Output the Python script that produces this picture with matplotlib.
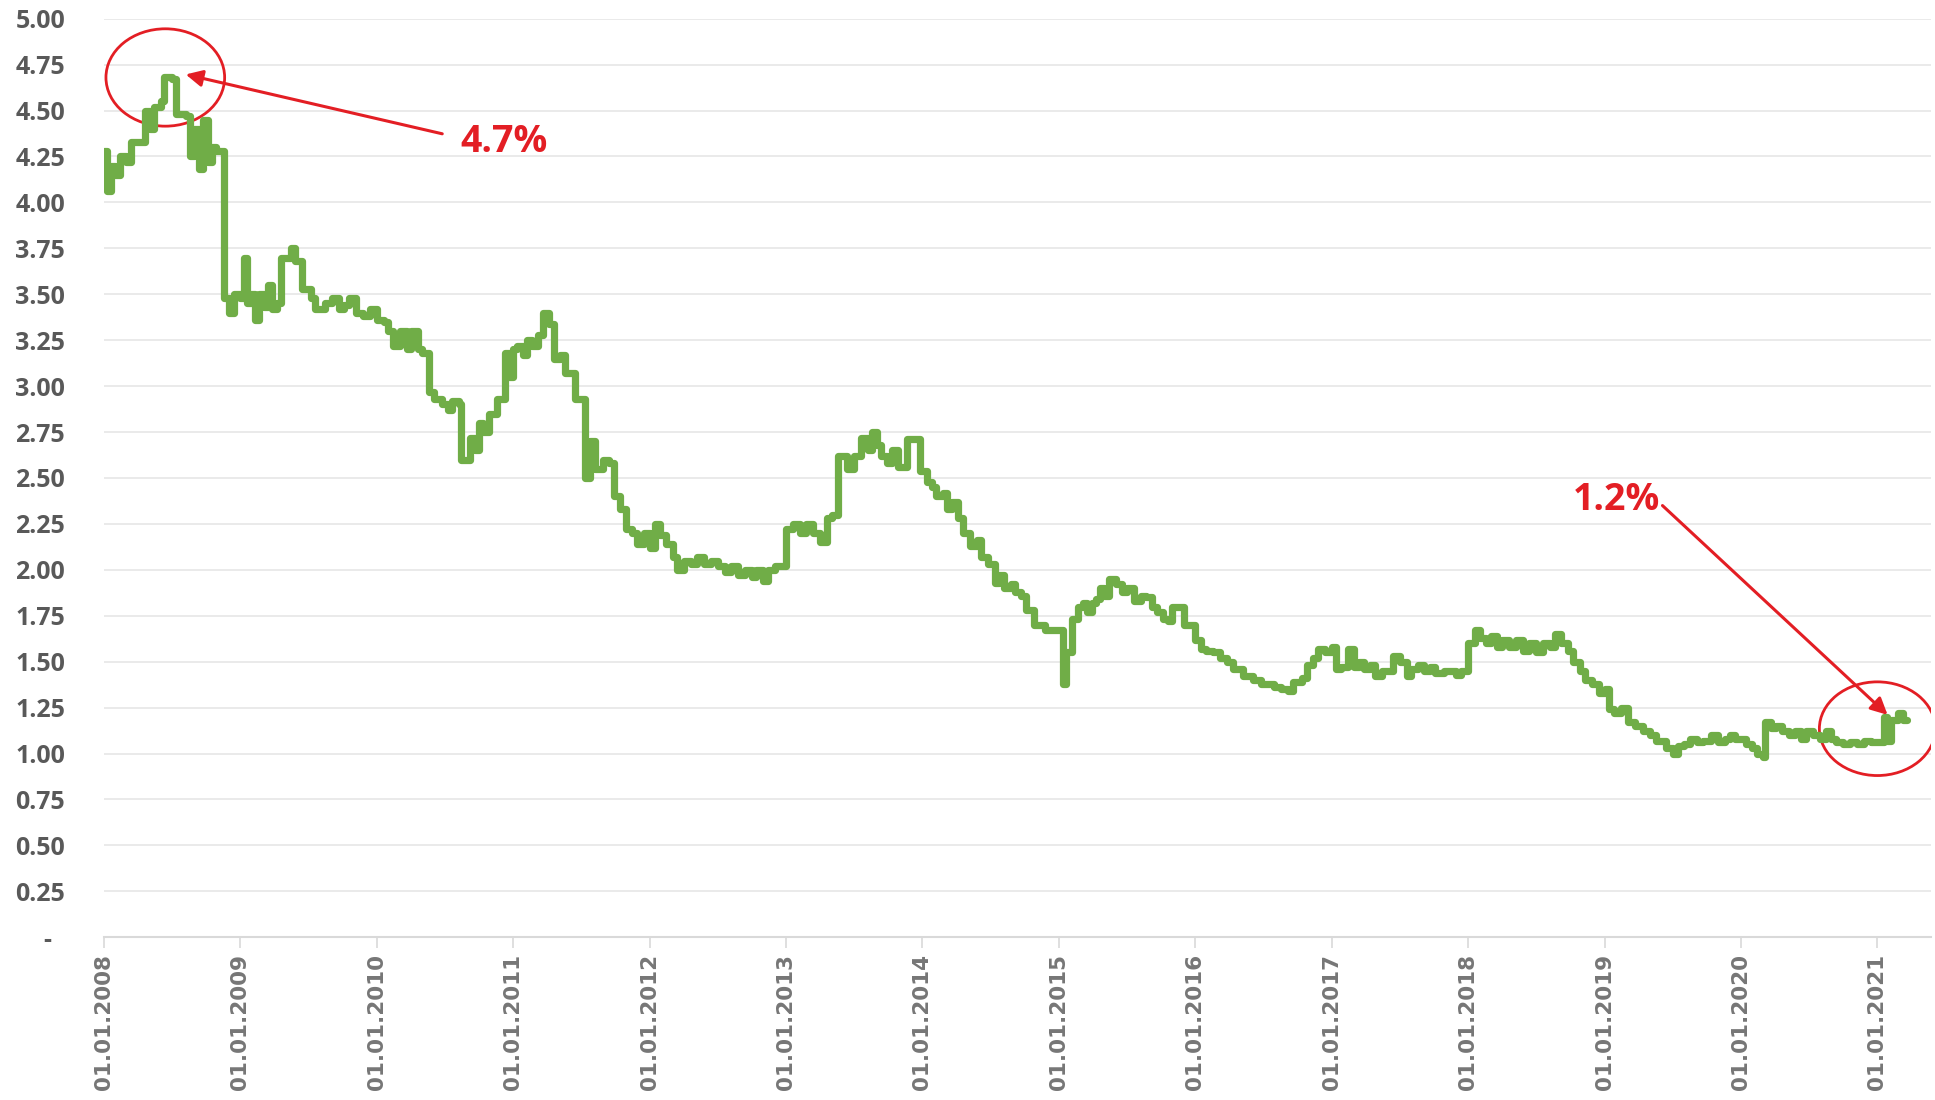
import matplotlib
matplotlib.use("Agg")
import matplotlib.pyplot as plt
from matplotlib.patches import Ellipse

# step points: fractional year -> rate (%)
years = [
    2008.00, 2008.02, 2008.05, 2008.08, 2008.12, 2008.16, 2008.20, 2008.25, 2008.30, 2008.34,
    2008.37, 2008.42, 2008.44, 2008.50, 2008.53, 2008.60, 2008.63, 2008.66, 2008.70, 2008.73,
    2008.76, 2008.79, 2008.82, 2008.88, 2008.92, 2008.95, 2009.00, 2009.03, 2009.05, 2009.08,
    2009.11, 2009.14, 2009.17, 2009.20, 2009.23, 2009.27, 2009.30, 2009.37, 2009.40, 2009.45,
    2009.52, 2009.55, 2009.62, 2009.67, 2009.72, 2009.76, 2009.80, 2009.85, 2009.90, 2009.95,
    2010.00, 2010.05, 2010.08, 2010.12, 2010.17, 2010.22, 2010.25, 2010.30, 2010.33, 2010.38,
    2010.42, 2010.48, 2010.52, 2010.55, 2010.60, 2010.62, 2010.68, 2010.72, 2010.75, 2010.78,
    2010.82, 2010.88, 2010.94, 2010.97, 2011.00, 2011.03, 2011.07, 2011.10, 2011.14, 2011.18,
    2011.22, 2011.26, 2011.30, 2011.34, 2011.38, 2011.42, 2011.45, 2011.50, 2011.53, 2011.56,
    2011.60, 2011.63, 2011.66, 2011.70, 2011.74, 2011.78, 2011.83, 2011.87, 2011.91, 2011.96,
    2012.00, 2012.04, 2012.08, 2012.12, 2012.17, 2012.20, 2012.25, 2012.30, 2012.35, 2012.40,
    2012.45, 2012.50, 2012.55, 2012.60, 2012.65, 2012.70, 2012.75, 2012.78, 2012.83, 2012.87,
    2012.92, 2013.00, 2013.05, 2013.10, 2013.15, 2013.20, 2013.25, 2013.30, 2013.34, 2013.38,
    2013.42, 2013.45, 2013.50, 2013.55, 2013.60, 2013.63, 2013.67, 2013.70, 2013.74, 2013.78,
    2013.82, 2013.86, 2013.89, 2013.94, 2013.98, 2014.03, 2014.07, 2014.10, 2014.15, 2014.18,
    2014.22, 2014.26, 2014.30, 2014.35, 2014.40, 2014.43, 2014.48, 2014.53, 2014.56, 2014.60,
    2014.65, 2014.68, 2014.72, 2014.76, 2014.82, 2014.90, 2015.03, 2015.05, 2015.10, 2015.14,
    2015.18, 2015.21, 2015.24, 2015.27, 2015.30, 2015.33, 2015.37, 2015.42, 2015.46, 2015.50,
    2015.55, 2015.60, 2015.64, 2015.68, 2015.72, 2015.76, 2015.80, 2015.83, 2015.88, 2015.92,
    2016.00, 2016.04, 2016.08, 2016.13, 2016.18, 2016.23, 2016.28, 2016.35, 2016.42, 2016.48,
    2016.53, 2016.58, 2016.63, 2016.68, 2016.72, 2016.78, 2016.82, 2016.86, 2016.90, 2016.95,
    2017.00, 2017.03, 2017.07, 2017.12, 2017.16, 2017.20, 2017.24, 2017.28, 2017.32, 2017.37,
    2017.41, 2017.45, 2017.50, 2017.55, 2017.58, 2017.63, 2017.68, 2017.72, 2017.76, 2017.82,
    2017.87, 2017.91, 2017.95, 2018.00, 2018.03, 2018.05, 2018.09, 2018.13, 2018.17, 2018.21,
    2018.25, 2018.30, 2018.35, 2018.40, 2018.45, 2018.50, 2018.55, 2018.60, 2018.64, 2018.68,
    2018.73, 2018.77, 2018.82, 2018.86, 2018.91, 2018.96, 2019.00, 2019.03, 2019.07, 2019.12,
    2019.17, 2019.22, 2019.28, 2019.33, 2019.38, 2019.45, 2019.50, 2019.54, 2019.58, 2019.63,
    2019.68, 2019.72, 2019.78, 2019.83, 2019.88, 2019.92, 2019.96, 2020.00, 2020.04, 2020.08,
    2020.12, 2020.16, 2020.18, 2020.22, 2020.26, 2020.30, 2020.35, 2020.40, 2020.44, 2020.48,
    2020.53, 2020.58, 2020.62, 2020.66, 2020.70, 2020.75, 2020.80, 2020.85, 2020.90, 2020.95,
    2021.00, 2021.05, 2021.07, 2021.10, 2021.15, 2021.19, 2021.22,
]
rates = [
    4.28, 4.06, 4.20, 4.15, 4.25, 4.22, 4.33, 4.33, 4.50, 4.40,
    4.52, 4.55, 4.68, 4.67, 4.48, 4.47, 4.25, 4.40, 4.18, 4.45,
    4.22, 4.30, 4.28, 3.48, 3.40, 3.50, 3.48, 3.70, 3.45, 3.50,
    3.36, 3.50, 3.43, 3.55, 3.42, 3.45, 3.70, 3.75, 3.68, 3.53,
    3.48, 3.42, 3.45, 3.48, 3.42, 3.44, 3.48, 3.40, 3.38, 3.42,
    3.36, 3.35, 3.30, 3.22, 3.30, 3.20, 3.30, 3.20, 3.18, 2.97,
    2.93, 2.90, 2.87, 2.92, 2.90, 2.60, 2.72, 2.65, 2.80, 2.75,
    2.85, 2.93, 3.18, 3.05, 3.20, 3.22, 3.17, 3.25, 3.22, 3.28,
    3.40, 3.34, 3.15, 3.17, 3.07, 3.07, 2.93, 2.93, 2.50, 2.70,
    2.55, 2.55, 2.60, 2.58, 2.40, 2.33, 2.22, 2.20, 2.14, 2.20,
    2.12, 2.25, 2.19, 2.14, 2.07, 2.00, 2.05, 2.03, 2.07, 2.03,
    2.05, 2.02, 1.99, 2.02, 1.97, 2.00, 1.96, 2.00, 1.94, 2.00,
    2.02, 2.22, 2.25, 2.20, 2.25, 2.20, 2.15, 2.28, 2.30, 2.62,
    2.62, 2.55, 2.62, 2.72, 2.65, 2.75, 2.68, 2.62, 2.58, 2.65,
    2.56, 2.56, 2.71, 2.71, 2.54, 2.48, 2.45, 2.40, 2.42, 2.33,
    2.37, 2.28, 2.20, 2.13, 2.16, 2.07, 2.03, 1.93, 1.97, 1.90,
    1.92, 1.88, 1.86, 1.78, 1.70, 1.67, 1.38, 1.55, 1.73, 1.80,
    1.82, 1.77, 1.82, 1.84, 1.90, 1.86, 1.95, 1.92, 1.88, 1.90,
    1.83, 1.86, 1.85, 1.80, 1.77, 1.73, 1.72, 1.80, 1.80, 1.70,
    1.62, 1.57, 1.56, 1.55, 1.52, 1.50, 1.46, 1.42, 1.40, 1.38,
    1.38, 1.36, 1.35, 1.34, 1.39, 1.41, 1.48, 1.52, 1.57, 1.55,
    1.58, 1.46, 1.47, 1.57, 1.47, 1.50, 1.46, 1.48, 1.42, 1.45,
    1.45, 1.53, 1.50, 1.42, 1.46, 1.48, 1.45, 1.47, 1.44, 1.45,
    1.45, 1.43, 1.45, 1.60, 1.60, 1.67, 1.63, 1.60, 1.64, 1.58,
    1.62, 1.58, 1.62, 1.56, 1.60, 1.55, 1.60, 1.58, 1.65, 1.60,
    1.56, 1.50, 1.45, 1.40, 1.38, 1.33, 1.35, 1.24, 1.22, 1.25,
    1.17, 1.15, 1.12, 1.10, 1.07, 1.03, 1.00, 1.04, 1.05, 1.08,
    1.06, 1.07, 1.10, 1.06, 1.08, 1.10, 1.08, 1.08, 1.05, 1.03,
    1.00, 0.98, 1.17, 1.14, 1.15, 1.12, 1.10, 1.12, 1.08, 1.12,
    1.10, 1.08, 1.12, 1.08, 1.06, 1.05, 1.06, 1.05, 1.07, 1.06,
    1.06, 1.20, 1.07, 1.18, 1.22, 1.18, 1.18,
]

tick_years = list(range(2008, 2022))
y_ticks = [0, 0.25, 0.5, 0.75, 1.0, 1.25, 1.5, 1.75, 2.0, 2.25, 2.5, 2.75,
           3.0, 3.25, 3.5, 3.75, 4.0, 4.25, 4.5, 4.75, 5.0]

GREEN = "#70ad47"
RED = "#e31e24"

fig = plt.figure(figsize=(19.35, 11), dpi=100)
ax = fig.add_axes([0.0537, 0.148, 0.944, 0.835])

ax.step(years, rates, where="post", color=GREEN, linewidth=5.2,
        solid_joinstyle="round", solid_capstyle="round")

ax.set_xlim(2008, 2021.39)
ax.set_ylim(0, 5)

ax.set_yticks(y_ticks)
ax.set_yticklabels(["-  "] + ["%.2f" % v for v in y_ticks[1:]],
                   fontfamily="Open Sans", fontweight="bold", fontsize=18, color="#595959")
ax.set_xticks(tick_years)
ax.set_xticklabels(["01.01.%d" % y for y in tick_years], rotation=90,
                   fontfamily="DejaVu Sans", fontweight="bold", fontsize=15.5, color="#767676")

ax.tick_params(axis="y", length=0, pad=28)
ax.tick_params(axis="x", length=8, color="#d9d9d9", width=1.2, pad=4)
ax.grid(axis="y", color="#e6e6e6", linewidth=1.2)
ax.set_axisbelow(True)
for s in ["top", "right", "left"]:
    ax.spines[s].set_visible(False)
ax.spines["bottom"].set_color("#d9d9d9")
ax.spines["bottom"].set_linewidth(1.5)

# annotations
ax.add_patch(Ellipse((2008.45, 4.68), 0.87, 0.53, fill=False, edgecolor=RED, linewidth=2))
ax.annotate("", xy=(2008.58, 4.70), xytext=(2010.50, 4.37),
            arrowprops=dict(arrowstyle="-|>", color=RED, lw=2.2, mutation_scale=25))
ax.text(2010.61, 4.33, "4.7%", color=RED, fontfamily="Open Sans", fontweight="bold",
        fontsize=27, va="center", ha="left")

ax.add_patch(Ellipse((2021.0, 1.135), 0.85, 0.51, fill=False, edgecolor=RED, linewidth=2))
ax.annotate("", xy=(2021.09, 1.20), xytext=(2019.41, 2.36),
            arrowprops=dict(arrowstyle="-|>", color=RED, lw=2.2, mutation_scale=25))
ax.text(2019.41, 2.38, "1.2%", color=RED, fontfamily="Open Sans", fontweight="bold",
        fontsize=27, va="center", ha="right")

fig.savefig("out.png", dpi=100)
